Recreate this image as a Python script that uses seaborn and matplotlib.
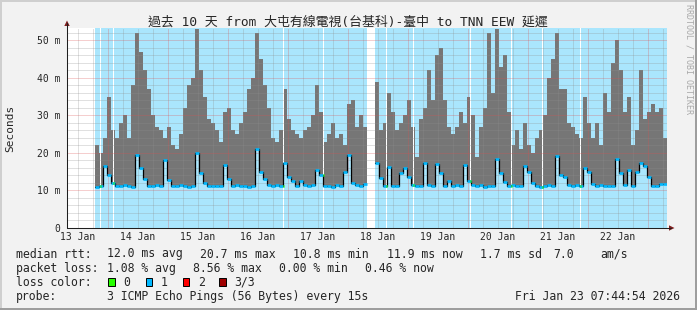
import numpy as np
import pandas as pd
import matplotlib
matplotlib.use("Agg")
import matplotlib.pyplot as plt
import matplotlib.dates as mdates
from matplotlib.patches import Polygon, Rectangle
from matplotlib.lines import Line2D
import seaborn as sns

# ---------------- data ----------------
title = "過去 10 天 from 大屯有線電視(台基科)-臺中 to TNN EEW 延遲"
graph_start = "2026-01-13 07:44:54"
graph_end = "2026-01-23 07:44:54"
first_bin = "2026-01-13 18:56"
bin_minutes = 96

# max rtt per bin (ms) -> top of the smoke
max_rtt = [22, 20, 24, 35, 26, 24, 28, 30, 24, 38,
           52, 47, 42, 37, 30, 27, 26, 24, 27, 22,
           21, 25, 32, 38, 40, 53, 42, 35, 29, 28,
           26, 23, 31, 32, 26, 25, 28, 31, 37, 40,
           52, 45, 38, 32, 24, 23, 26, 37, 29, 26,
           25, 24, 26, 27,
           30, 38, 31, 23, 25, 28, 24, 25, 22, 33,
           34, 27, 30, 27, np.nan, np.nan, 39, 26, 28, 36,
           31, 26, 28, 30, 34, 27, 19, 29, 32, 42,
           34, 46, 48, 34, 27, 25, 27, 31, 28, 35,
           30, 19, 27, 32, 52, 36, 53, 43, 46, 31,
           22, 26, 21, 28, 22, 20, 24, 26, 30, 40,
           45, 52, 37, 37, 28, 27, 25, 24, 35, 28,
           24, 28, 22, 36, 31, 44, 50, 42, 31, 35,
           22, 26, 42, 29, 31, 33, 31, 32, 24]

# median rtt per bin (ms)
median_rtt = [11.0, 11.2, 16.4, 14.0, 12.0, 11.3, 11.1, 11.4, 11.2, 11.0,
              19.5, 16.0, 13.0, 11.3, 11.2, 11.4, 11.1, 18.2, 12.8, 11.3,
              11.1, 11.5, 11.2, 11.0, 11.2, 20.0, 14.6, 12.0, 11.2, 11.1,
              11.3, 11.2, 16.7, 13.0, 11.3, 11.4, 11.1, 11.2, 11.0, 11.2,
              21.0, 15.0, 13.0, 11.4, 11.2, 11.5, 11.1, 17.4, 13.7, 12.4,
              11.2, 12.6, 11.5, 11.2, 11.4, 15.5, 14.0, 11.3, 11.2, 11.0,
              11.4, 11.2, 15.0, 19.5, 12.0, 11.5, 11.3, 11.6, np.nan, np.nan,
              17.3, 13.3, 11.2, 16.2, 11.3, 11.1, 14.6, 16.0, 13.7, 11.4,
              11.2, 11.3, 17.3, 11.4, 11.2, 17.0, 14.6, 11.3, 12.6, 11.2,
              11.4, 11.1, 16.7, 12.5, 11.5, 11.2, 11.4, 11.0, 11.2, 11.3,
              18.4, 14.6, 12.2, 11.2, 11.4, 11.1, 11.2, 16.4, 14.9, 12.0,
              11.3, 11.0, 11.2, 11.4, 11.1, 19.2, 14.2, 13.6, 11.4, 11.2,
              11.5, 11.3, 16.0, 15.0, 11.6, 11.2, 11.4, 11.1, 11.2, 11.3,
              18.4, 14.6, 11.4, 15.5, 11.3, 14.8, 17.3, 16.4, 13.7, 11.3,
              11.2, 11.8, 11.6]

# moments with 0 loss (green median, no loss background)
loss_zero_times = ["2026-01-13 20:45", "2026-01-14 01:57", "2026-01-16 21:57",
                   "2026-01-17 13:57", "2026-01-18 15:09", "2026-01-19 01:57",
                   "2026-01-20 00:45", "2026-01-20 17:09", "2026-01-21 05:33",
                   "2026-01-21 20:45"]
loss_zero_minutes = 40

day_labels = ["13 Jan", "14 Jan", "15 Jan", "16 Jan", "17 Jan",
              "18 Jan", "19 Jan", "20 Jan", "21 Jan", "22 Jan"]
ytick_values = [0, 10, 20, 30, 40, 50]
ytick_labels = ["0", "10 m", "20 m", "30 m", "40 m", "50 m"]
y_top = 53.3

legend_rtt = [("median rtt:", 16), ("12.0 ms avg", 107.3), ("20.7 ms max", 200),
              ("10.8 ms min", 293.3), ("11.9 ms now", 386.7), ("1.7 ms sd", 480),
              ("7.0", 553), ("am/s", 600)]
legend_loss = [("packet loss:", 16), ("1.08 % avg", 107.3), ("8.56 % max", 193),
               ("0.00 % min", 279.3), ("0.46 % now", 365)]
loss_labels = ["0", "1", "2", "3/3"]
loss_colors = ["#26ff00", "#00b8ff", "#ff0000", "#a00000"]
probe_text = "3 ICMP Echo Pings (56 Bytes) every 15s"
stamp_text = "Fri Jan 23 07:44:54 2026"

# ---------------- style ----------------
sns.set_style("white")
plt.rcParams["font.family"] = ["DejaVu Sans Mono", "Noto Sans CJK TC"]

W, H = 697, 310
def fx(x):
    return x / W
def fy(y):
    return 1 - y / H

BG = "#f2f2f2"
SKY = "#aae6fd"
SMOKE = "#767676"
MINOR = (0.56, 0.56, 0.56, 0.55)
MAJOR = (0.87, 0.31, 0.31, 0.55)

fig = plt.figure(figsize=(W / 100, H / 100), dpi=100, facecolor=BG)
ax_l, ax_r, ax_t, ax_b = 67, 667, 28, 228
ax = fig.add_axes([fx(ax_l), fy(ax_b), (ax_r - ax_l) / W, (ax_b - ax_t) / H])
ax.set_facecolor("white")

t0 = pd.Timestamp(graph_start)
t1 = pd.Timestamp(graph_end)
ax.set_xlim(mdates.date2num(t0), mdates.date2num(t1))
ax.set_ylim(0, y_top)

times = pd.date_range(first_bin, periods=len(max_rtt), freq=f"{bin_minutes}min")
tnum = mdates.date2num(times.to_pydatetime())
w = bin_minutes / 1440.0
mx = np.array(max_rtt, dtype=float)
md = np.array(median_rtt, dtype=float)
valid = ~np.isnan(mx)

# loss background (runs of valid bins)
i = 0
n = len(mx)
while i < n:
    if valid[i]:
        j = i
        while j + 1 < n and valid[j + 1]:
            j += 1
        ax.axvspan(tnum[i], tnum[j] + w, color=SKY, lw=0, zorder=1)
        i = j + 1
    else:
        i += 1

# smoke
ax.bar(tnum[valid], (mx - md)[valid], bottom=md[valid], width=w, align="edge",
       color=SMOKE, linewidth=0, antialiased=False, zorder=2)

# zero-loss stripes
zt = mdates.date2num(pd.to_datetime(loss_zero_times).to_pydatetime())
zw = loss_zero_minutes / 1440.0
for z in zt:
    ax.axvspan(z, z + zw, color="white", lw=0, zorder=2.5)

# grid
minor_v = pd.date_range("2026-01-13 12:00", graph_end, freq="6h")
major_v = pd.date_range("2026-01-14 00:00", graph_end, freq="D")
for t in minor_v:
    if t.hour != 0:
        ax.axvline(mdates.date2num(t), color=MINOR, lw=0.72, ls=(0, (1, 1)), zorder=3)
for t in major_v:
    ax.axvline(mdates.date2num(t), color=MAJOR, lw=0.72, ls=(0, (1, 1)), zorder=3)
for v in np.arange(2, y_top, 2):
    if v % 10 != 0:
        ax.axhline(v, color=MINOR, lw=0.72, ls=(0, (1, 1)), zorder=3)
for v in ytick_values[1:]:
    ax.axhline(v, color=MAJOR, lw=0.72, ls=(0, (1, 1)), zorder=3)

# median: black step line (seaborn) + loss-coloured horizontal segments
seg = np.cumsum(~valid)
df = pd.DataFrame({"t": times, "median": md, "seg": seg})[valid]
df["t"] = mdates.date2num(df["t"].dt.to_pydatetime())
sns.lineplot(data=df, x="t", y="median", units="seg", estimator=None,
             drawstyle="steps-post", color="black", lw=0.9, ax=ax, zorder=4,
             legend=False)
ax.hlines(md[valid], tnum[valid], tnum[valid] + w, colors=loss_colors[1],
          lw=1.9, zorder=5, capstyle="butt")
idx = np.clip(np.searchsorted(tnum, zt, side="right") - 1, 0, n - 1)
ax.hlines(md[idx], zt, zt + zw, colors=loss_colors[0], lw=1.9, zorder=5.5,
          capstyle="butt")

# ticks
ax.set_yticks(ytick_values, ytick_labels)
noon = pd.date_range("2026-01-13 12:00", periods=len(day_labels), freq="D")
ax.set_xticks(mdates.date2num(noon.to_pydatetime()), day_labels)
ax.tick_params(axis="y", length=2.5, width=0.7, color=MAJOR, labelsize=7, pad=2.5)
ax.tick_params(axis="x", length=0, labelsize=7, pad=3)
ax.set_xlabel("")
ax.set_ylabel("")
for s in ax.spines.values():
    s.set_visible(False)

# axes lines & arrows
AX = "#1f1f1f"
AR = "#7f1f1f"
fig.add_artist(Line2D([fx(ax_l), fx(ax_l)], [fy(ax_b), fy(23)], color=AX, lw=0.75,
                      transform=fig.transFigure))
fig.add_artist(Line2D([fx(ax_l), fx(671)], [fy(ax_b), fy(ax_b)], color=AX, lw=0.75,
                      transform=fig.transFigure))
fig.add_artist(Polygon([[fx(64.3), fy(26)], [fx(69.7), fy(26)], [fx(67), fy(20.5)]],
                       closed=True, color=AR, transform=fig.transFigure, lw=0))
fig.add_artist(Polygon([[fx(669), fy(225.3)], [fx(669), fy(230.7)], [fx(674.5), fy(228)]],
                       closed=True, color=AR, transform=fig.transFigure, lw=0))

# frame
fig.add_artist(Rectangle((0, fy(2)), 1, fy(0) - fy(2), color="#cfcfcf", lw=0,
                         transform=fig.transFigure))
fig.add_artist(Rectangle((0, 0), fx(2), 1, color="#cfcfcf", lw=0,
                         transform=fig.transFigure))
fig.add_artist(Rectangle((0, 0), 1, fy(308), color="#9e9e9e", lw=0,
                         transform=fig.transFigure))
fig.add_artist(Rectangle((fx(695), 0), fx(2), 1, color="#9e9e9e", lw=0,
                         transform=fig.transFigure))

# texts
fig.text(fx(347.5), fy(22), title, ha="center", va="center", fontsize=9.3,
         family=["DejaVu Sans Mono", "Noto Sans CJK TC"])
fig.text(fx(10), fy(128), "Seconds", rotation=90, ha="center", va="center", fontsize=8)
fig.text(fx(688.5), fy(4), "RRDTOOL / TOBI OETIKER", rotation=270, ha="center",
         va="top", fontsize=6, color="#a9a9a9")

LF = 8.3
for s, x in legend_rtt:
    fig.text(fx(x), fy(254), s, ha="left", va="center", fontsize=LF)
for s, x in legend_loss:
    fig.text(fx(x), fy(268.3), s, ha="left", va="center", fontsize=LF)
fig.text(fx(16), fy(282.3), "loss color:", ha="left", va="center", fontsize=LF)
box_x = [108.3, 145.7, 182.7, 219.3]
for bx, lab, col in zip(box_x, loss_labels, loss_colors):
    fig.add_artist(Rectangle((fx(bx), fy(285.7)), 6.7 / W, 7.3 / H, facecolor=col,
                             edgecolor="black", lw=0.7, transform=fig.transFigure))
    fig.text(fx(bx + 15), fy(282.3), lab, ha="left", va="center", fontsize=LF)
fig.text(fx(16), fy(296.7), "probe:", ha="left", va="center", fontsize=LF)
fig.text(fx(107.3), fy(296.7), probe_text, ha="left", va="center", fontsize=LF)
fig.text(fx(680), fy(296.7), stamp_text, ha="right", va="center", fontsize=LF)

fig.savefig("out.png", dpi=100, facecolor=BG)
